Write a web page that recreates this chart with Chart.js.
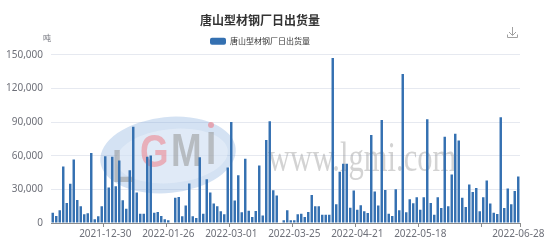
<!DOCTYPE html>
<html><head><meta charset="utf-8">
<script src="https://cdn.jsdelivr.net/npm/chart.js@4"></script>
<style>html,body{margin:0;padding:0;background:#fff;overflow:hidden}</style>
</head><body>
<canvas id="c" width="554" height="242"></canvas>
<script>
const titleText = '唐山型材钢厂日出货量';
const seriesName = '唐山型材钢厂日出货量';
const unitText = '吨';
const categories = [
'2021-12-09','2021-12-10','2021-12-13','2021-12-14','2021-12-15','2021-12-16','2021-12-17','2021-12-20','2021-12-21','2021-12-22',
'2021-12-23','2021-12-24','2021-12-27','2021-12-28','2021-12-29','2021-12-30','2021-12-31','2022-01-04','2022-01-05','2022-01-06',
'2022-01-07','2022-01-10','2022-01-11','2022-01-12','2022-01-13','2022-01-14','2022-01-17','2022-01-18','2022-01-19','2022-01-20',
'2022-01-21','2022-01-24','2022-01-25','2022-01-26','2022-01-27','2022-01-28','2022-02-08','2022-02-09','2022-02-10','2022-02-11',
'2022-02-14','2022-02-15','2022-02-16','2022-02-17','2022-02-18','2022-02-21','2022-02-22','2022-02-23','2022-02-24','2022-02-25',
'2022-02-28','2022-03-01','2022-03-02','2022-03-03','2022-03-04','2022-03-07','2022-03-08','2022-03-09','2022-03-10','2022-03-11',
'2022-03-14','2022-03-15','2022-03-16','2022-03-17','2022-03-18','2022-03-21','2022-03-22','2022-03-23','2022-03-24','2022-03-25',
'2022-03-28','2022-03-29','2022-03-30','2022-03-31','2022-04-01','2022-04-02','2022-04-06','2022-04-07','2022-04-08','2022-04-11',
'2022-04-12','2022-04-13','2022-04-14','2022-04-15','2022-04-18','2022-04-19','2022-04-20','2022-04-21','2022-04-22','2022-04-24',
'2022-04-25','2022-04-26','2022-04-27','2022-04-28','2022-04-29','2022-05-05','2022-05-06','2022-05-07','2022-05-09','2022-05-10',
'2022-05-11','2022-05-12','2022-05-13','2022-05-16','2022-05-17','2022-05-18','2022-05-19','2022-05-20','2022-05-23','2022-05-24',
'2022-05-25','2022-05-26','2022-05-27','2022-05-30','2022-05-31','2022-06-01','2022-06-02','2022-06-06','2022-06-07','2022-06-08',
'2022-06-09','2022-06-10','2022-06-13','2022-06-14','2022-06-15','2022-06-16','2022-06-17','2022-06-20','2022-06-21','2022-06-22',
'2022-06-23','2022-06-24','2022-06-27','2022-06-28'
];
const values = [
9200,6300,11300,50400,17900,34900,56600,20600,14900,7700,
8600,62300,3300,6000,14900,59600,31600,59000,32800,55700,
20300,12800,47000,85800,27100,8300,8300,59000,60200,9200,
9800,6300,3300,2400,0,22400,23200,6000,15500,35200,
6000,4500,58700,8300,39000,27100,17300,14900,10400,7700,
49500,90000,20000,42600,9500,57200,11000,5400,10700,51300,
6600,73900,90600,29200,24400,0,2400,11300,2400,2400,
7700,8300,5400,9800,25000,14900,14900,7400,7400,7400,
147000,16700,45600,52700,52700,13700,28900,11900,15800,10400,
8900,78400,28000,15500,91800,29500,8300,6300,30100,11300,
132900,9500,21200,17600,22900,11900,22900,92400,17900,7400,
22900,13400,76900,14900,43200,79600,73600,22600,14300,34300,
27700,31300,10400,22900,37800,17300,9200,8000,94200,13400,
30700,16700,28600,41400
];
const yTickValues = [0, 30000, 60000, 90000, 120000, 150000];
const xLabelIndices = [15, 33, 51, 69, 87, 105, 133];
const xTickIndices = [15, 33, 51, 69, 87, 105, 123];

const FONT = '"Noto Sans", "Noto Sans CJK SC", sans-serif';
const CJK = '"Noto Sans CJK SC", sans-serif';

const extras = {
  id: 'extras',
  beforeLayout(chart) {
    if (chart.legend && !chart.legend._patched) {
      const orig = chart.legend.fit;
      chart.legend.fit = function () { orig.call(this); this.height = 26.8; };
      chart.legend._patched = true;
    }
  },
  beforeDatasetsDraw(chart) {
    const ctx = chart.ctx;
    ctx.save();
    // watermark logo: ring
    ctx.beginPath();
    ctx.ellipse(168, 155, 68, 38, -0.1, 0, Math.PI * 2);
    ctx.fillStyle = 'rgba(120,165,218,0.32)';
    ctx.fill();
    ctx.beginPath();
    ctx.ellipse(172, 156, 56, 27, -0.1, 0, Math.PI * 2);
    ctx.fillStyle = 'rgba(238,244,251,0.5)';
    ctx.fill();
    // letters
    ctx.textBaseline = 'alphabetic';
    ctx.save();
    ctx.translate(0, 0);
    ctx.scale(0.8, 1);
    ctx.font = 'bold 46px "Liberation Sans", sans-serif';
    ctx.fillStyle = 'rgba(150,150,150,0.55)';
    ctx.fillText('L', 112 / 0.8, 182);
    ctx.fillStyle = 'rgba(240,115,125,0.50)';
    ctx.fillText('G', 140 / 0.8, 167);
    ctx.fillStyle = 'rgba(150,150,150,0.55)';
    ctx.fillText('M', 171 / 0.8, 166);
    ctx.fillText('I', 206 / 0.8, 164);
    ctx.restore();
    ctx.beginPath();
    ctx.arc(211, 125, 3, 0, Math.PI * 2);
    ctx.fillStyle = 'rgba(240,115,125,0.55)';
    ctx.fill();
    // watermark url
    ctx.translate(268, 171);
    ctx.scale(1.02, 1.4);
    ctx.font = '30px "Liberation Serif", serif';
    ctx.fillStyle = 'rgba(140,140,140,0.38)';
    ctx.fillText('www.lgmi.com', 0, 0);
    ctx.restore();
  },
  afterDraw(chart) {
    const ctx = chart.ctx;
    ctx.save();
    ctx.font = '8px ' + CJK;
    ctx.fillStyle = '#6e7079';
    ctx.textAlign = 'center';
    ctx.textBaseline = 'middle';
    ctx.fillText(unitText, 47, 38);
    // download icon
    ctx.strokeStyle = '#a0a0a0';
    ctx.lineWidth = 1;
    ctx.beginPath();
    ctx.moveTo(512.5, 27); ctx.lineTo(512.5, 35);
    ctx.moveTo(509, 32); ctx.lineTo(512.5, 35.5); ctx.lineTo(516, 32);
    ctx.moveTo(507.5, 34.5); ctx.lineTo(507.5, 37.5); ctx.lineTo(517.5, 37.5); ctx.lineTo(517.5, 34.5);
    ctx.stroke();
    ctx.restore();
  }
};

new Chart(document.getElementById('c'), {
  type: 'bar',
  data: {
    labels: categories,
    datasets: [{
      label: seriesName,
      data: values,
      backgroundColor: '#3470b1',
      borderWidth: 0,
      categoryPercentage: 1,
      barPercentage: 0.7
    }]
  },
  options: {
    responsive: false,
    devicePixelRatio: 1,
    animation: false,
    layout: { padding: { left: 0, right: 34, top: 0, bottom: 0 } },
    plugins: {
      title: {
        display: true,
        text: titleText,
        color: '#333333',
        font: { size: 12, weight: 'bold', family: CJK },
        padding: { top: 13.5, bottom: 0 }
      },
      legend: {
        display: true,
        labels: {
          boxWidth: 16, boxHeight: 7, padding: 9.4,
          color: '#333333',
          font: { size: 8, family: CJK },
          useBorderRadius: true, borderRadius: 2
        }
      },
      tooltip: { enabled: false }
    },
    scales: {
      x: {
        offset: true,
        afterFit(scale) { scale.height = 19; },
        grid: {
          offset: true,
          drawOnChartArea: false,
          drawTicks: true,
          tickLength: 4,
          tickColor: (c) => (c.type !== 'tick' || xTickIndices.includes(c.index)) ? '#8c8c8c' : 'rgba(0,0,0,0)'
        },
        border: { display: true, color: '#8c8c8c', width: 1 },
        ticks: {
          autoSkip: false, maxRotation: 0, minRotation: 0, padding: 1,
          color: '#6e7079',
          font: { size: 10, family: FONT },
          callback: (v, i) => xLabelIndices.includes(i) ? categories[i] : ''
        }
      },
      y: {
        min: 0, max: 150000,
        afterFit(scale) { scale.width = 51; },
        afterBuildTicks(scale) { scale.ticks = yTickValues.map(v => ({ value: v })); },
        grid: { color: '#e6e9f0', drawTicks: false },
        border: { display: false },
        ticks: {
          padding: 8,
          color: '#6e7079',
          font: { size: 10, family: FONT },
          callback: (v) => v.toLocaleString('en-US')
        }
      }
    }
  },
  plugins: [extras]
});
</script>
</body></html>
